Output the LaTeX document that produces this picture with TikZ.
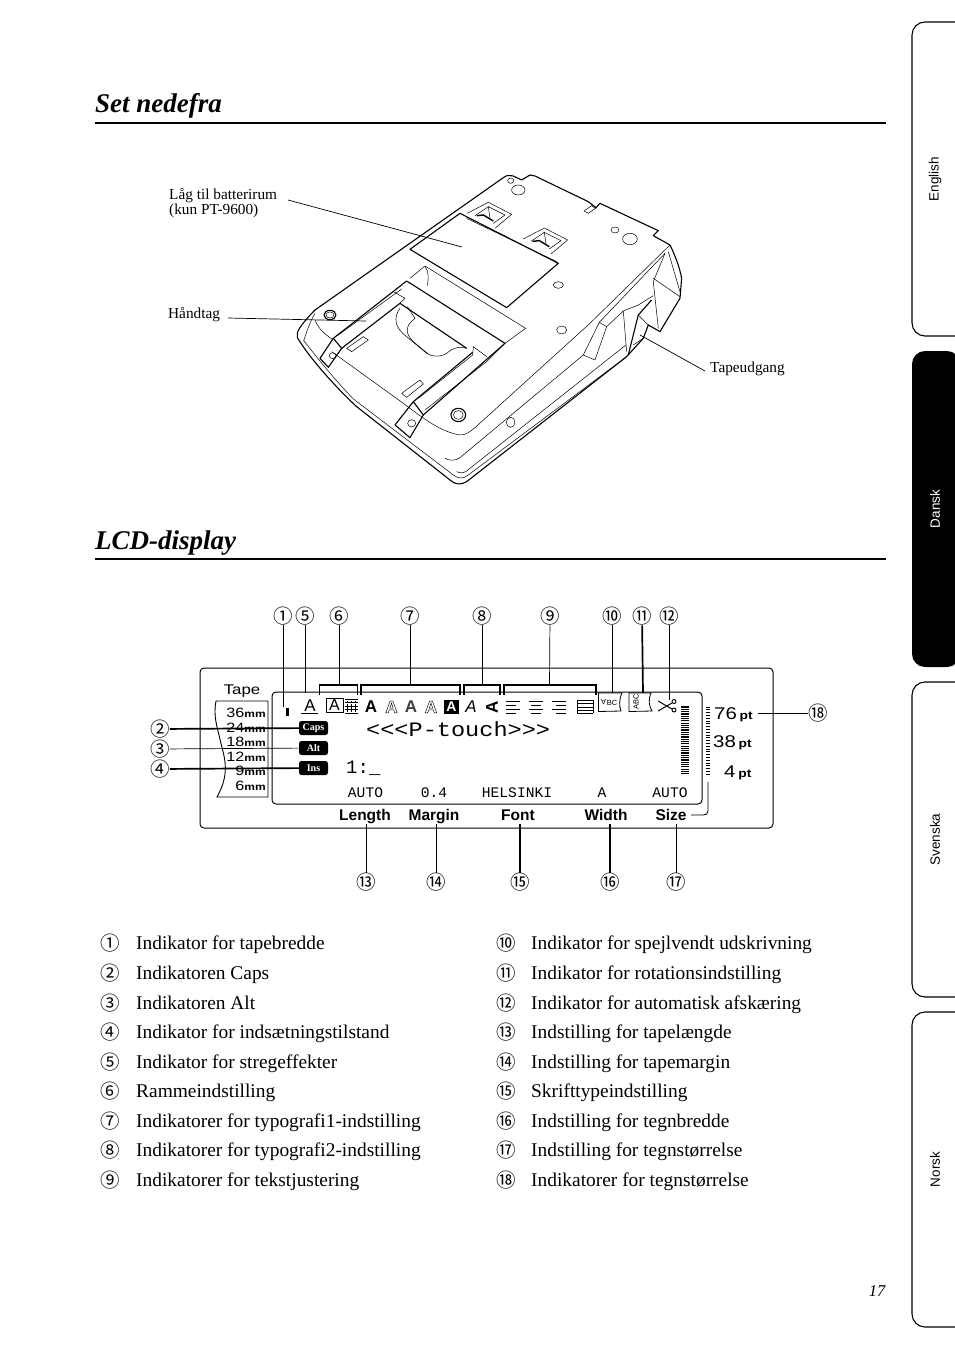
\documentclass[tikz,border=0pt]{standalone}
\usepackage{fontspec}
\setmainfont{Liberation Serif}
\newfontfamily\numfont{Noto Sans CJK JP}
\newfontfamily\helv{Liberation Sans}
\newfontfamily\lcdsans[FakeStretch=1.2]{Liberation Sans}
\newfontfamily\lcdmono{Liberation Mono}
\newfontfamily\lcdbig[FakeStretch=1.15]{Liberation Mono}
\usetikzlibrary{arrows.meta,positioning,calc}
\newcommand{\fsz}[1]{\fontsize{#1}{#1}\selectfont}
\newcommand{\hollow}[1]{\special{pdf:code 1 Tr 0.45 w}#1\special{pdf:code 0 Tr}}
\tikzset{
  ttl/.style={font=\fsz{27}\bfseries\itshape, anchor=base west, inner sep=0pt},
  rul/.style={line width=1.6pt},
  numb/.style={font=\numfont\fsz{19.5}, inner sep=0pt},
  itm/.style={font=\fsz{19.4}, anchor=base west, inner sep=0pt},
  cptn/.style={font=\fsz{15.3}, anchor=base west, inner sep=0pt, align=left},
  ldr/.style={line width=0.7pt},
  ldrb/.style={line width=1.7pt},
  brk/.style={line width=1.1pt},
  mac/.style={line width=0.5pt, line join=round},
  macb/.style={line width=1.1pt, line join=round},
  tabb/.style={line width=1.1pt, rounded corners=13pt},
  tabt/.style={font=\helv\fsz{13.5}, rotate=90, inner sep=0pt},
  lbl/.style={font=\helv\bfseries\fsz{15.5}, anchor=base, inner sep=0pt},
  pill/.style={fill=black, text=white, rounded corners=2.5pt, minimum width=29pt,
    minimum height=14pt, inner sep=0pt, font=\bfseries\fsz{10}},
  mmt/.style={font=\lcdsans\fsz{13.5}, anchor=base east, inner sep=0pt},
  ptt/.style={font=\lcdsans\fsz{17}, anchor=base west, inner sep=0pt},
  stat/.style={font=\lcdmono\fsz{14.6}, anchor=base, inner sep=0pt},
  glyph/.style={font=\helv\bfseries\fsz{17}, inner sep=0pt},
}
\begin{document}
\begin{tikzpicture}[x=1pt,y=-1pt]
  \useasboundingbox[fill=white] (0,0) rectangle (954,1348);

  % titles
  \node[ttl] (tnede) at (95,113) {Set nedefra};
  \draw[rul] (95,123) -- (886,123);
  \node[ttl] (tlcd) at (95,549) {LCD-display};
  \draw[rul] (95,559) -- (886,559);
  \node[font=\itshape\fsz{16.5}, inner sep=0pt] (pg) at (877,1291) {17};

  % side tabs
  \foreach \ya/\yb/\nm/\lab in {22/336/tbe/English, 682/997/tbs/Svenska, 1012/1327/tbn/Norsk}{
    \draw[tabb] (960,\ya) -- (912,\ya) -- (912,\yb) -- (960,\yb);
    \node[tabt] (\nm) at (935,{(\ya+\yb)/2}) {\lab};
  }
  \fill[rounded corners=13pt] (960,351) -- (912,351) -- (912,667) -- (960,667) -- cycle;
  \node[tabt, text=white] (tbd) at (935,509) {Dansk};

  % machine, in the coordinates of the crop
  \begin{scope}[shift={(290,165)},x=0.3333pt,y=-0.3333pt]
    \draw[macb] (22,505) .. controls (24,490) and (55,455) .. (75,435) -- (640,38)
      .. controls (650,30) and (660,30) .. (670,33) -- (695,45) -- (720,30) -- (735,33)
      -- (895,110) -- (918,128) -- (930,115) -- (1090,190) -- (1105,197) -- (1090,212)
      -- (1140,240) .. controls (1155,270) and (1170,310) .. (1175,340) -- (1170,400)
      -- (1110,500) -- (1075,480) -- (1060,520) -- (1010,575) -- (530,950)
      .. controls (515,960) and (495,960) .. (480,945) -- (200,725)
      .. controls (140,670) and (60,580) .. (30,530) .. controls (22,520) and (20,515) .. (22,505) -- cycle;
    \draw[mac] (40,525) .. controls (90,590) and (140,650) .. (190,702) -- (490,930)
      .. controls (505,942) and (520,942) .. (535,930) -- (1010,575);
    \draw[mac] (75,445) .. controls (60,470) and (50,500) .. (42,525);
    \draw[mac] (75,465) .. controls (85,490) and (100,505) .. (130,525);
    % recess lines
    \draw[mac] (125,560) -- (340,715) .. controls (400,760) and (450,800) .. (510,810)
      .. controls (530,810) and (540,800) .. (555,788) -- (900,475) -- (1140,240);
    \draw[mac] (465,880) .. controls (480,888) and (495,888) .. (510,878) -- (880,570);
    \draw[mac] (500,920) .. controls (510,925) and (520,925) .. (530,918) -- (1008,540);
    \draw[mac] (880,570) -- (928,472) -- (950,485) -- (915,585) -- cycle;
    \draw[mac] (928,472) -- (1125,265);
    \draw[mac] (950,485) -- (1000,438) -- (1010,560);
    \draw[mac] (1000,438) -- (1045,420) -- (1090,392);
    \draw[mac] (1125,265) -- (1090,350) -- (1105,490);
    \draw[mac] (1090,340) -- (1170,395);
    \draw[mac] (1135,260) -- (1170,380);
    \draw[macb] (1015,570) -- (1045,450) -- (1085,405);
    \draw[mac] (1045,450) -- (1075,480);
    \draw[mac] (1030,540) -- (1060,520);
    % battery cover with its latches
    \draw[macb] (360,253) -- (510,145) -- (805,295) -- (650,428) -- cycle;
    \draw[mac] (530,160) -- (800,290);
    \foreach \dx/\dy in {0/0, 168/77}{
      \begin{scope}[shift={(\dx,\dy)}]
        \draw[mac] (532,145) -- (595,112) -- (665,148) -- (615,190);
        \draw[mac] (555,152) -- (595,125) -- (645,150) -- (610,175);
        \draw[line width=1.4pt] (560,152) -- (580,150) -- (610,168);
        \draw[mac] (595,125) -- (600,160);
      \end{scope}
    }
    % handle
    \draw[macb] (350,348) -- (645,535) -- (400,750);
    \draw[mac] (360,340) -- (405,303) -- (707,490) -- (645,535);
    \draw[mac] (405,305) .. controls (418,320) and (415,345) .. (412,362);
    \draw[macb] (350,348) -- (130,520) -- (155,550) -- (330,415) -- (530,550);
    \draw[mac] (310,380) -- (345,400) -- (330,415);
    \draw[mac] (335,372) -- (142,512);
    \draw[macb] (130,520) -- (90,580) -- (115,607) -- (155,550);
    \draw[macb] (370,710) -- (315,780) -- (360,818) -- (400,750) -- (370,710);
    \draw[macb] (370,710) -- (548,562);
    \draw[mac] (385,700) -- (548,570) -- (550,545) -- (590,575);
    \draw[mac] (405,735) -- (590,590) -- (640,540);
    \draw[mac] (330,430) .. controls (312,455) and (310,485) .. (350,515)
      -- (410,565) .. controls (425,575) and (450,578) .. (470,565)
      .. controls (485,552) and (500,543) .. (530,550);
    \draw[mac] (352,425) -- (375,460) .. controls (350,480) and (340,500) .. (370,530) -- (415,567);
    \draw[mac] (170,550) -- (220,515) -- (235,525) -- (185,560) -- cycle;
    \draw[mac] (335,685) -- (390,645) -- (400,657) -- (350,697) -- cycle;
    % screws
    \foreach \sx/\sy/\ra/\rb in {685/75/20/15, 662/47/9/8, 1020/222/22/17, 975/195/12/9,
        805/360/15/10, 815/495/15/12, 128/572/10/9, 365/775/12/11, 662/772/13/15}{
      \draw[mac] (\sx,\sy) ellipse ({\ra*0.3333pt} and {\rb*0.3333pt});
    }
    \foreach \sx/\sy/\ra/\rb in {505/750/22/20, 120/450/18/14}{
      \draw[macb] (\sx,\sy) ellipse ({\ra*0.3333pt} and {\rb*0.3333pt});
      \draw[mac] (\sx,\sy) ellipse ({\ra*0.22pt} and {\rb*0.22pt});
    }
    \draw[mac] (882,138) -- (905,122) -- (917,130) -- (895,145) -- cycle;
  \end{scope}

  % machine labels
  \node[cptn] (lbat) at (169,200) {Låg til batterirum};
  \node[cptn] (lbat2) at (169,215) {(kun PT-9600)};
  \node[cptn] (lhan) at (168,318) {Håndtag};
  \node[cptn] (ltap) at (710,372) {Tapeudgang};
  \coordinate (ebat) at (462,247);
  \coordinate (shan) at (228,318);
  \coordinate (ehan) at (366,321);
  \coordinate (sbat) at (288,200);
  \coordinate (etap) at (640,335);
  \coordinate (stap) at (705,371);
  \draw[ldr] (sbat) -- (ebat);
  \draw[ldr] (shan) -- (ehan);
  \draw[ldr] (stap) -- (etap);

  % lcd panel
  \draw[line width=1pt, rounded corners=4pt] (200,668) rectangle (773,828);
  \draw[line width=1pt, rounded corners=4pt, fill=white] (272,692) rectangle (702,804);

  % tape strip
  \node[font=\lcdsans\fsz{14}, inner sep=0pt] (tape) at (242,691) {Tape};
  \draw[line width=0.9pt] (216,701) -- (268,701) -- (268,797) -- (217,797)
    .. controls (232,770) and (223,755) .. (219,735) .. controls (215,720) and (214,712) .. (216,701);
  \foreach \yy/\mm/\nm in {717/36/m1, 732/24/m2, 746/18/m3, 761/12/m4, 775/9/m5, 790/6/m6}{
    \node[mmt] (\nm) at (266,\yy) {\mm{\fsz{10}\bfseries mm}};
  }

  % status pills
  \node[pill] (caps) at (313.5,728) {Caps};
  \node[pill] (alt) at (313.5,748) {Alt};
  \node[pill] (ins) at (313.5,768) {Ins};

  % text in the display
  \node[font=\lcdbig\fsz{20.5}, anchor=base west, inner sep=0pt] (ptxt) at (366,736) {<{}<{}<P-touch>{}>{}>};
  \node[font=\lcdmono\fsz{19}, anchor=base west, inner sep=0pt] (linenr) at (346,773) {1:\_};
  \foreach \xx/\lab/\nm in {365.5/AUTO/sa, 434/0.4/sb, 517/HELSINKI/sc, 602/A/sd, 670/AUTO/se}{
    \node[stat] (\nm) at (\xx,797) {\lab};
  }

  % indicator row
  \fill (285.5,708) rectangle (289,716);
  \node[glyph, font=\helv\fsz{17}] (gu) at (310,706) {A};
  \draw[line width=1pt] (301,713) -- (318,713);
  \draw[line width=1pt] (326,698) rectangle (343,712);
  \node[glyph, font=\helv\fsz{16}] (gb) at (334.5,705) {A};
  \foreach \gy in {699,702.5,706,709.5,713}{ \draw[line width=0.6pt] (345,\gy) -- (358,\gy); }
  \foreach \gx in {347,351,355}{ \draw[line width=0.5pt, densely dotted] (\gx,699) -- (\gx,713); }
  \node[glyph] (g1) at (371,707) {A};
  \node[glyph] (g2) at (391.5,707) {\hollow{A}};
  \node[glyph, text=black!75] (g3) at (411,707) {A};
  \node[glyph] (g4) at (431,707) {\hollow{A}};
  \fill (444,700) rectangle (459,714);
  \node[glyph, text=white, font=\helv\bfseries\fsz{14}] (g5) at (451.5,707) {A};
  \node[glyph, font=\helv\itshape\fsz{17}] (g6) at (471,707) {A};
  \node[glyph, rotate=90] (g7) at (492,707) {A};
  \foreach \ax/\la in {506/0, 529/3, 552/6}{
    \foreach \ay/\ll in {701/14,705/10,709/14,713/10}{
      \draw[line width=0.6pt] ({\ax+(14-\ll)*\la/6},\ay) -- ({\ax+(14-\ll)*\la/6+\ll},\ay);
    }
  }
  \draw[line width=0.6pt] (577,700) -- (577,713) (593,700) -- (593,713);
  \foreach \ay in {700,703.5,707,710,713}{ \draw[line width=0.6pt] (577,\ay) -- (593,\ay); }
  \draw[line width=0.8pt] (598.5,693) -- (622,693) .. controls (619,700) and (619,706) .. (621,711) -- (598.5,711.5) -- cycle;
  \node[font=\helv\fsz{7.5}, inner sep=0pt] (gvb) at (612,703) {BC};
  \node[font=\helv\fsz{7.5}, inner sep=0pt, rotate=180] (gva) at (603.5,702.5) {A};
  \draw[line width=0.8pt] (629,693) -- (651,693) .. controls (648,700) and (649,706) .. (652,711) -- (629,711.5) -- cycle;
  \node[font=\helv\fsz{7.5}, inner sep=0pt, rotate=90] (gr) at (636,702) {ABC};
  % scissors
  \draw[line width=1pt] (658,701) -- (672,709) (658,711) -- (672,703);
  \draw[line width=0.9pt] (674,701.5) circle (2pt) (674,710) circle (2pt);
  % bars
  \foreach \by in {707,709.3,...,776}{ \draw[line width=1.2pt] (681,\by) -- (689,\by); }
  \foreach \by in {707,709.8,...,776}{ \draw[line width=0.9pt] (706,\by) -- (709.5,\by); }
  \draw[line width=0.8pt] (708,782) -- (708,811) .. controls (708,814) and (706,815) .. (703,815) -- (691,815);
  \foreach \yy/\lab/\nm/\xx in {719/76/p1/714, 747/38/p2/713, 777/4/p3/724}{
    \node[ptt] (\nm) at (\xx,\yy) {\lab\,{\bfseries\fsz{11.5}pt}};
  }

  % bottom labels
  \foreach \xx/\lab/\nm in {365/Length/blen, 434/Margin/bmar, 518/Font/bfon, 606/Width/bwid, 671/Size/bsiz}{
    \node[lbl] (\nm) at (\xx,820) {\lab};
  }

  % callout numbers round the panel
  \foreach \xx/\ch/\nm in {283/①/k1, 305/⑤/k5, 339/⑥/k6, 410.5/⑦/k7, 482/⑧/k8, 550/⑨/k9, 612/⑩/k10, 642/⑪/k11, 669/⑫/k12}{
    \node[numb] (\nm) at (\xx,616) {\ch};
  }
  \foreach \yy/\ch/\nm in {729/②/k2, 749/③/k3, 769/④/k4}{
    \node[numb] (\nm) at (160,\yy) {\ch};
  }
  \node[numb] (k18) at (818,713) {⑱};
  \foreach \xx/\ch/\nm in {366/⑬/k13, 436/⑭/k14, 520/⑮/k15, 610/⑯/k16, 676/⑰/k17}{
    \node[numb] (\nm) at (\xx,882) {\ch};
  }

  % brackets on the top edge
  \coordinate (brA) at (339,685);
  \coordinate (brB) at (410.5,685);
  \coordinate (brC) at (482,685);
  \coordinate (brD) at (549.5,685);
  \draw[brk] (319.5,695) -- (319.5,685) -- (357.5,685) -- (357.5,695);
  \draw[brk] (361,695) -- (361,685) -- (460,685) -- (460,695);
  \draw[brk] (464,695) -- (464,685) -- (500,685) -- (500,695);
  \draw[brk] (504,695) -- (504,685) -- (596,685) -- (596,695);

  % callout lines
  \coordinate (e1) at (283,707);
  \coordinate (e5) at (305,693);
  \coordinate (e10) at (612,693);
  \coordinate (e11) at (643,693);
  \coordinate (e12) at (669,700);
  \coordinate (blow) at (0,824);
  \draw[ldr] (k1) -- (e1);
  \draw[ldr] (k5) -- (e5);
  \draw[ldr] (k6) -- (brA);
  \draw[ldr] (k7) -- (brB);
  \draw[ldr] (k8) -- (brC);
  \draw[ldr] (k9) -- (brD);
  \draw[ldr] (k10) -- (e10);
  \draw[ldrb] (k11) -- (e11);
  \draw[ldr] (k12) -- (e12);
  \draw[ldrb] (k2) -- (caps);
  \draw[ldr] (k3) -- (alt);
  \draw[ldrb] (k4) -- (ins);
  \coordinate (e18) at (758,713);
  \draw[ldr] (k18) -- (e18);
  \draw[ldr] (k13) -- (k13 |- blow);
  \draw[ldr] (k14) -- (k14 |- blow);
  \draw[ldrb] (k15) -- (k15 |- blow);
  \draw[ldrb] (k16) -- (k16 |- blow);
  \draw[ldr] (k17) -- (k17 |- blow);

  % legend, two columns
  \foreach \yy/\ch/\lab/\nm in {
      949/①/Indikator for tapebredde/a1,
      979/②/Indikatoren Caps/a2,
      1009/③/Indikatoren Alt/a3,
      1038/④/Indikator for indsætningstilstand/a4,
      1068/⑤/Indikator for stregeffekter/a5,
      1097/⑥/Rammeindstilling/a6,
      1127/⑦/Indikatorer for typografi1-indstilling/a7,
      1156/⑧/Indikatorer for typografi2-indstilling/a8,
      1186/⑨/Indikatorer for tekstjustering/a9}{
    \node[numb] (n\nm) at (110,\yy-6) {\ch};
    \node[itm] (\nm) at (136,\yy) {\lab};
  }
  \foreach \yy/\ch/\lab/\nm in {
      949/⑩/Indikator for spejlvendt udskrivning/b1,
      979/⑪/Indikator for rotationsindstilling/b2,
      1009/⑫/Indikator for automatisk afskæring/b3,
      1038/⑬/Indstilling for tapelængde/b4,
      1068/⑭/Indstilling for tapemargin/b5,
      1097/⑮/Skrifttypeindstilling/b6,
      1127/⑯/Indstilling for tegnbredde/b7,
      1156/⑰/Indstilling for tegnstørrelse/b8,
      1186/⑱/Indikatorer for tegnstørrelse/b9}{
    \node[numb] (n\nm) at (506,\yy-6) {\ch};
    \node[itm] (\nm) at (531,\yy) {\lab};
  }
\end{tikzpicture}
\end{document}
